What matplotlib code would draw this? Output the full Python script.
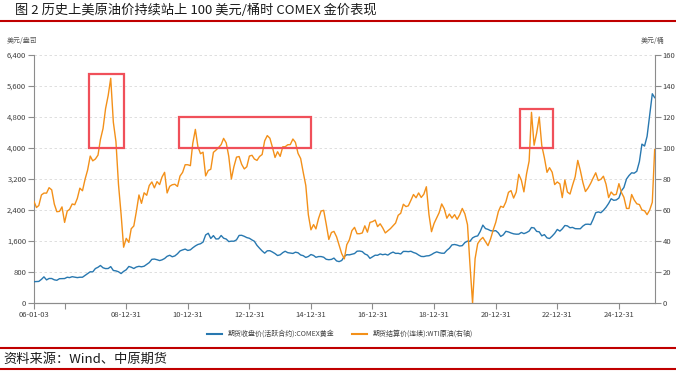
import pandas as pd
import matplotlib.pyplot as plt
import matplotlib.dates as mdates
from matplotlib.lines import Line2D
from matplotlib.patches import Rectangle
from matplotlib.ticker import FuncFormatter, MultipleLocator

plt.rcParams['font.family'] = ['Noto Sans CJK SC', 'DejaVu Sans']
plt.rcParams['axes.unicode_minus'] = False

# monthly values, 2006-01 .. 2026-03
gold = [
    550, 555, 557, 610, 675, 596, 633, 632, 598, 586, 627, 629,
    631, 665, 655, 679, 667, 655, 665, 665, 712, 754, 806, 803,
    889, 922, 968, 909, 888, 890, 939, 839, 829, 806, 760, 816,
    858, 943, 924, 890, 929, 946, 934, 949, 996, 1043, 1127, 1134,
    1117, 1095, 1113, 1148, 1205, 1232, 1193, 1215, 1271, 1343, 1370, 1391,
    1356, 1372, 1424, 1473, 1510, 1529, 1572, 1756, 1800, 1665, 1739, 1652,
    1656, 1742, 1673, 1650, 1585, 1596, 1594, 1630, 1744, 1747, 1721, 1688,
    1670, 1627, 1593, 1487, 1414, 1343, 1286, 1347, 1349, 1316, 1275, 1225,
    1244, 1300, 1336, 1299, 1288, 1279, 1311, 1296, 1239, 1222, 1176, 1200,
    1251, 1227, 1179, 1198, 1199, 1181, 1128, 1117, 1125, 1159, 1086, 1068,
    1097, 1200, 1246, 1242, 1260, 1276, 1337, 1341, 1326, 1266, 1236, 1152,
    1192, 1234, 1231, 1266, 1246, 1260, 1236, 1283, 1314, 1280, 1283, 1265,
    1331, 1331, 1325, 1335, 1303, 1281, 1238, 1202, 1198, 1215, 1220, 1250,
    1291, 1320, 1300, 1285, 1284, 1359, 1413, 1500, 1510, 1495, 1471, 1480,
    1560, 1598, 1591, 1680, 1715, 1732, 1847, 2010, 1921, 1900, 1866, 1858,
    1867, 1808, 1718, 1760, 1850, 1834, 1807, 1785, 1776, 1777, 1821, 1790,
    1817, 1856, 1948, 1937, 1848, 1836, 1733, 1765, 1681, 1664, 1726, 1798,
    1898, 1855, 1912, 2000, 1990, 1942, 1951, 1919, 1916, 1916, 1986, 2030,
    2034, 2024, 2160, 2330, 2350, 2330, 2390, 2470, 2570, 2690, 2650, 2660,
    2710, 2900, 2980, 3200, 3290, 3360, 3350, 3400, 3650, 4100, 4050, 4300,
    4850, 5400, 5300,
]
wti = [
    65.5, 61.6, 62.9, 69.7, 70.9, 70.9, 74.4, 73.0, 63.8, 58.9, 59.1, 62.0,
    52.0, 59.3, 60.4, 63.9, 63.4, 67.5, 74.1, 72.4, 79.9, 85.8, 94.8, 91.7,
    92.9, 95.4, 105.5, 112.6, 125.4, 133.9, 145.0, 116.7, 104.1, 76.6, 57.3, 36.0,
    41.7, 39.1, 47.9, 49.7, 59.0, 69.7, 64.3, 71.1, 69.5, 75.8, 78.1, 74.3,
    78.3, 76.4, 81.2, 84.3, 71.0, 75.3, 76.3, 76.6, 75.2, 81.9, 84.3, 89.2,
    89.2, 88.6, 102.9, 112.0, 100.9, 96.3, 97.3, 82.0, 85.5, 86.3, 97.2, 98.6,
    100.3, 102.2, 106.2, 103.3, 94.7, 80.0, 87.9, 94.1, 94.5, 89.5, 86.5, 87.9,
    94.8, 95.3, 92.9, 92.0, 94.5, 95.8, 104.6, 108.0, 106.3, 100.5, 93.9, 97.6,
    94.6, 100.8, 100.8, 102.1, 102.2, 105.8, 103.6, 96.5, 93.2, 84.4, 75.8, 57.0,
    47.2, 50.6, 47.8, 54.5, 59.3, 59.8, 50.9, 41.0, 45.5, 46.2, 42.7, 37.3,
    31.8, 28.5, 37.6, 40.8, 46.7, 48.8, 44.7, 44.7, 45.2, 49.8, 45.7, 52.0,
    52.5, 53.5, 49.3, 51.1, 48.5, 45.2, 46.6, 48.0, 49.8, 51.6, 56.6, 57.9,
    63.7, 62.2, 62.7, 66.3, 70.0, 67.9, 71.0, 68.1, 70.2, 75.0, 57.0, 46.0,
    51.4, 55.0, 58.2, 63.9, 60.8, 54.7, 57.4, 54.8, 57.0, 54.0, 57.0, 61.0,
    57.5, 50.5, 25.0, 0.0, 28.6, 38.3, 40.7, 42.3, 39.6, 37.0, 41.4, 47.0,
    52.0, 59.0, 62.4, 61.7, 65.2, 71.4, 72.5, 67.7, 71.6, 83.0, 79.2, 71.7,
    83.2, 91.6, 123.0, 101.8, 109.6, 120.0, 101.6, 93.7, 84.3, 87.3, 84.4, 76.4,
    78.1, 76.8, 68.0, 79.4, 71.6, 70.3, 76.0, 81.4, 92.0, 85.6, 77.7, 71.9,
    74.2, 77.2, 80.6, 84.0, 79.0, 79.8, 81.8, 76.7, 68.0, 71.6, 69.7, 70.1,
    77.0, 71.2, 68.2, 61.0, 61.0, 70.0, 66.5, 64.0, 63.5, 60.0, 59.5, 57.0,
    60.0, 65.0, 99.0,
]
dates = pd.date_range('2006-01-01', periods=len(gold), freq='MS')
dates = dates.where(dates != pd.Timestamp('2006-01-01'), pd.Timestamp('2006-01-03'))

# highlighted periods (oil > 100): start, end, low, high
box_start = ['2007-10-20', '2010-09-20', '2021-10-10']
box_end = ['2008-12-10', '2015-01-01', '2022-11-15']
box_low = [100, 100, 100]
box_high = [148, 120, 125]

tick_dates = ['2006-01-03', '2006-12-31', '2008-12-31', '2010-12-31', '2012-12-31',
              '2014-12-31', '2016-12-31', '2018-12-31', '2020-12-31', '2022-12-31',
              '2024-12-31']
tick_labels = ['06-01-03', '', '08-12-31', '10-12-31', '12-12-31', '14-12-31',
               '16-12-31', '18-12-31', '20-12-31', '22-12-31', '24-12-31']

BLUE = '#2878b0'
ORANGE = '#f39019'
GREY = '#8c8c8c'

fig = plt.figure(figsize=(6.76, 3.75), dpi=100)
ax = fig.add_axes([34 / 676, 1 - 303 / 375, 621 / 676, 248 / 375])
ax2 = ax.twinx()

ax.plot(dates, gold, color=BLUE, lw=1.0, zorder=3)
ax2.plot(dates, wti, color=ORANGE, lw=1.0, zorder=3)

for s, e, lo, hi in zip(box_start, box_end, box_low, box_high):
    x0 = mdates.date2num(pd.Timestamp(s))
    x1 = mdates.date2num(pd.Timestamp(e))
    ax2.add_patch(Rectangle((x0, lo), x1 - x0, hi - lo, fill=False,
                            edgecolor='#f0505a', lw=1.6, zorder=5))

ax.set_xlim(pd.Timestamp('2006-01-03'), pd.Timestamp('2026-03-05'))
ax.set_ylim(0, 6400)
ax2.set_ylim(0, 160)
ax.yaxis.set_major_locator(MultipleLocator(800))
ax2.yaxis.set_major_locator(MultipleLocator(20))
ax.yaxis.set_major_formatter(FuncFormatter(lambda v, p: f'{v:,.0f}'))
ax.set_xticks([pd.Timestamp(d) for d in tick_dates])
ax.set_xticklabels(tick_labels)

ax.yaxis.grid(True, linestyle=(0, (3, 3)), color='#d9d9d9', lw=0.6)
ax.set_axisbelow(True)

for a in (ax, ax2):
    for sp in a.spines.values():
        sp.set_color(GREY)
        sp.set_linewidth(0.8)
    a.spines['top'].set_visible(False)
    a.tick_params(colors=GREY, labelcolor='#404040', labelsize=5.5,
                  length=4, width=0.8, pad=1.5)
ax.spines['right'].set_visible(False)
ax2.spines['left'].set_visible(False)

fig.text(22 / 676, 1 - 41 / 375, '美元/盎司', fontsize=5, color='#595959', ha='center', va='center')
fig.text(653 / 676, 1 - 41 / 375, '美元/桶', fontsize=5, color='#595959', ha='center', va='center')

handles = [Line2D([], [], color=BLUE, lw=1.5), Line2D([], [], color=ORANGE, lw=1.5)]
fig.legend(handles, ['期货收盘价(活跃合约):COMEX黄金', '期货结算价(连续):WTI原油(右轴)'],
           loc='center', bbox_to_anchor=(340 / 676, 1 - 334 / 375), ncol=2,
           frameon=False, fontsize=5, handlelength=2.2, columnspacing=2.5,
           labelcolor='#404040')

# header and footer
fig.text(15 / 676, 1 - 10 / 375, '图 2 历史上美原油价持续站上 100 美元/桶时 COMEX 金价表现',
         fontsize=9.5, va='center', ha='left', color='#1a1a1a')
fig.add_artist(Line2D([0, 1], [1 - 21 / 375] * 2, color='#c00000', lw=1.5))
fig.add_artist(Line2D([0, 1], [1 - 348 / 375] * 2, color='#c00000', lw=1.5))
fig.add_artist(Line2D([0, 1], [1 - 369 / 375] * 2, color='#c00000', lw=1.5))
fig.text(3 / 676, 1 - 359 / 375, '资料来源：Wind、中原期货', fontsize=9.5,
         va='center', ha='left', color='#1a1a1a')

fig.savefig('out.png', dpi=100)
